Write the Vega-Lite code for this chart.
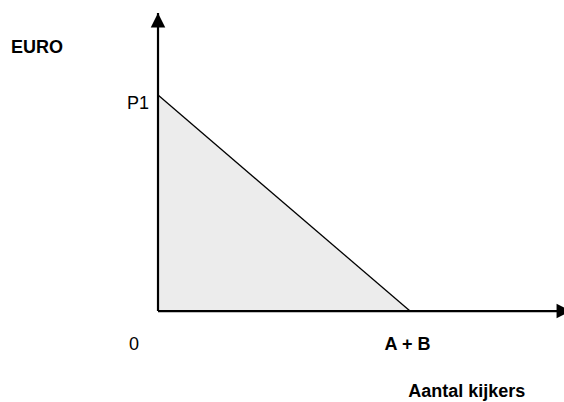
{
  "$schema": "https://vega.github.io/schema/vega-lite/v6.json",
  "width": 564,
  "height": 402,
  "autosize": {"type": "none"},
  "padding": 0,
  "background": "white",
  "config": {"view": {"stroke": null}},
  "datasets": {
    "surplus": [
      {"q": 0, "p": 10, "base": 0},
      {"q": 10, "p": 0, "base": 0}
    ],
    "yaxis": [{"q": 0, "p": 0}, {"q": 0, "p": 13.8}],
    "xaxis": [{"q": 0, "p": 0}, {"q": 16.39, "p": 0}],
    "labels": [
      {"q": -4.8, "p": 12.2, "text": "EURO", "bold": true, "align": "center"},
      {"q": -0.79, "p": 9.6, "text": "P1", "bold": false, "align": "right"},
      {"q": -0.95, "p": -1.55, "text": "0", "bold": false, "align": "center"},
      {"q": 9.9, "p": -1.55, "text": "A + B", "bold": true, "align": "center"},
      {"q": 12.25, "p": -3.75, "text": "Aantal kijkers", "bold": true, "align": "center"}
    ]
  },
  "layer": [
    {
      "data": {"name": "surplus"},
      "mark": {"type": "area", "color": "#ececec", "opacity": 1},
      "encoding": {
        "x": {"field": "q", "type": "quantitative", "scale": {"domain": [-6.27, 16.11], "nice": false, "zero": false}, "axis": null},
        "y": {"field": "p", "type": "quantitative", "scale": {"domain": [-4.21, 14.4], "nice": false, "zero": false}, "axis": null},
        "y2": {"field": "base"}
      }
    },
    {
      "data": {"name": "surplus"},
      "mark": {"type": "line", "color": "black", "strokeWidth": 1.3},
      "encoding": {
        "x": {"field": "q", "type": "quantitative"},
        "y": {"field": "p", "type": "quantitative"}
      }
    },
    {
      "data": {"name": "yaxis"},
      "mark": {"type": "line", "color": "black", "strokeWidth": 2.2},
      "encoding": {
        "x": {"field": "q", "type": "quantitative"},
        "y": {"field": "p", "type": "quantitative"}
      }
    },
    {
      "data": {"name": "xaxis"},
      "mark": {"type": "line", "color": "black", "strokeWidth": 2.2},
      "encoding": {
        "x": {"field": "q", "type": "quantitative"},
        "y": {"field": "p", "type": "quantitative"}
      }
    },
    {
      "data": {"name": "yaxis"},
      "transform": [{"filter": "datum.p > 0"}],
      "mark": {"type": "point", "shape": "M0,0L-1,2L1,2Z", "size": 210, "filled": true, "color": "black", "opacity": 1},
      "encoding": {
        "x": {"field": "q", "type": "quantitative"},
        "y": {"field": "p", "type": "quantitative"}
      }
    },
    {
      "data": {"name": "xaxis"},
      "transform": [{"filter": "datum.q > 0"}],
      "mark": {"type": "point", "shape": "M0,0L-2,-1L-2,1Z", "size": 210, "filled": true, "color": "black", "opacity": 1},
      "encoding": {
        "x": {"field": "q", "type": "quantitative"},
        "y": {"field": "p", "type": "quantitative"}
      }
    },
    {
      "data": {"name": "labels"},
      "transform": [{"filter": "datum.bold"}],
      "mark": {"type": "text", "font": "Liberation Sans", "fontSize": 18, "fontWeight": "bold", "baseline": "middle", "align": "center", "color": "black"},
      "encoding": {
        "x": {"field": "q", "type": "quantitative"},
        "y": {"field": "p", "type": "quantitative"},
        "text": {"field": "text"}
      }
    },
    {
      "data": {"name": "labels"},
      "transform": [{"filter": "!datum.bold"}],
      "mark": {"type": "text", "font": "Liberation Sans", "fontSize": 18, "baseline": "middle", "color": "black"},
      "encoding": {
        "x": {"field": "q", "type": "quantitative"},
        "y": {"field": "p", "type": "quantitative"},
        "text": {"field": "text"},
        "align": {"field": "align", "type": "nominal", "scale": null}
      }
    }
  ]
}
